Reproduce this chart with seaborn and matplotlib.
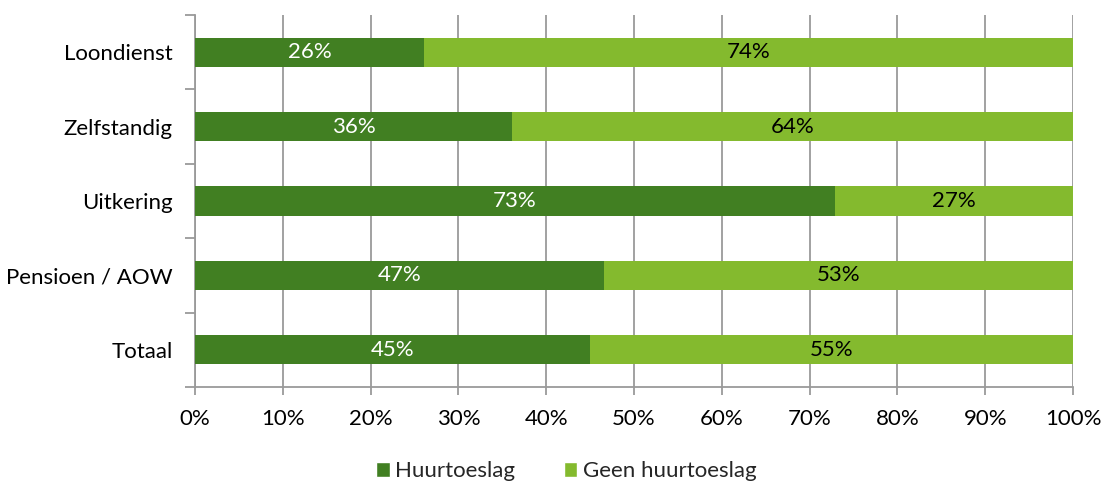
import matplotlib
matplotlib.use("Agg")
import matplotlib.pyplot as plt
import seaborn as sns
import pandas as pd
import numpy as np
from matplotlib.patches import Patch

categories = ["Loondienst", "Zelfstandig", "Uitkering", "Pensioen / AOW", "Totaal"]
huurtoeslag = [26.1, 36.1, 72.9, 46.6, 45.0]
geen_huurtoeslag = [73.9, 63.9, 27.1, 53.4, 55.0]
x_ticks = [0, 10, 20, 30, 40, 50, 60, 70, 80, 90, 100]
series_names = ["Huurtoeslag", "Geen huurtoeslag"]

dark = "#417F22"
light = "#84BA2E"
grid_c = "#9A9A9A"
fs = 16

sns.set_theme(style="white")
plt.rcParams["font.family"] = ["Lato", "DejaVu Sans"]

df = pd.DataFrame({
    "cat": categories,
    "h": huurtoeslag,
    "g": geen_huurtoeslag,
})
df["total"] = df["h"] + df["g"]

fig = plt.figure(figsize=(11.02, 4.82), dpi=100)
ax = fig.add_axes([0.177, 0.197, 0.7967, 0.772])

sns.barplot(data=df, y="cat", x="total", color=light, orient="h", width=0.39,
            saturation=1, ax=ax, zorder=3)
sns.barplot(data=df, y="cat", x="h", color=dark, orient="h", width=0.39,
            saturation=1, ax=ax, zorder=3)

for p in ax.patches:
    p.set_edgecolor("none")

for i, (h, g) in enumerate(zip(huurtoeslag, geen_huurtoeslag)):
    ax.text(h / 2, i, f"{round(h)}%", ha="center", va="center", color="white",
            fontsize=fs, zorder=4)
    ax.text(h + g / 2, i, f"{round(g)}%", ha="center", va="center", color="black",
            fontsize=fs, zorder=4)

ax.set_xlim(0, 100)
ax.set_ylim(len(categories) - 0.5, -0.5)
ax.set_xticks(x_ticks)
ax.set_xticklabels([f"{t}%" for t in x_ticks], fontsize=fs)
ax.set_yticks(range(len(categories)))
ax.set_yticklabels(categories, fontsize=fs)
ax.set_yticks(np.arange(-0.5, len(categories), 1.0), minor=True)
ax.set_xlabel("")
ax.set_ylabel("")

ax.xaxis.grid(True, color=grid_c, linewidth=1.3, zorder=0)
ax.yaxis.grid(False)
ax.set_axisbelow(True)
for s in ["top", "right"]:
    ax.spines[s].set_visible(False)
for s in ["left", "bottom"]:
    ax.spines[s].set_color(grid_c)
    ax.spines[s].set_linewidth(1.3)

ax.tick_params(axis="y", which="major", length=0, pad=16, colors="black")
ax.tick_params(axis="y", which="minor", length=7, width=1.3, color=grid_c, direction="out", left=True)
ax.tick_params(axis="x", which="major", length=6, width=1.3, color=grid_c, direction="out",
               bottom=True, pad=10, labelcolor="black")

handles = [Patch(facecolor=dark, label=series_names[0]),
           Patch(facecolor=light, label=series_names[1])]
fig.legend(handles=handles, loc="lower center", bbox_to_anchor=(0.514, -0.04), ncol=2,
           frameon=False, fontsize=fs, handlelength=0.6, handleheight=0.6,
           handletextpad=0.25, columnspacing=2.2)

fig.savefig("out.png", dpi=100)
